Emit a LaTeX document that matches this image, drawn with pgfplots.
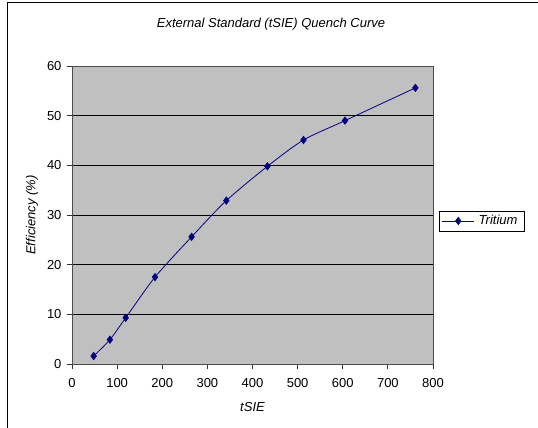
\documentclass[border=0pt]{standalone}
\usepackage{pgfplots}
\pgfplotsset{compat=1.18}
\usepackage{fontspec}
\setmainfont{Liberation Sans}
\definecolor{navy}{HTML}{000080}
\definecolor{plotgray}{HTML}{C0C0C0}
\begin{document}
\begin{tikzpicture}[x=1pt,y=1pt]
\path[use as bounding box] (0,0) rectangle (538,428);
\draw[black, line width=1pt] (7.3,0) -- (7.3,425) -- (538,425);
\node[font=\itshape\fontsize{13}{15}\selectfont] at (271,404) {External Standard (tSIE) Quench Curve};
\begin{axis}[
  at={(72pt,64pt)}, anchor=south west,
  scale only axis, width=361pt, height=298pt,
  xmin=0, xmax=800, ymin=0, ymax=60,
  xtick={0,100,...,800}, ytick={0,10,...,60},
  axis background/.style={fill=plotgray},
  axis line style={gray!60!black, line width=0.9pt},
  ymajorgrids, grid style={black, line width=0.9pt},
  tick align=outside, tick pos=left,
  major tick length=5pt,
  tick style={gray!40!black, line width=0.8pt},
  ticklabel style={font=\fontsize{13}{15}\selectfont},
  xticklabel style={yshift=-6pt},
  yticklabel style={xshift=-2pt},
  /pgf/number format/assume math mode=true,
  xlabel={\itshape tSIE}, ylabel={\itshape Efficiency (\%)},
  label style={font=\fontsize{13}{15}\selectfont},
  xlabel style={at={(axis description cs:0.5,-0.145)}, anchor=center},
  ylabel style={at={(axis description cs:-0.111,0.5)}, anchor=center},
  legend style={at={(1.0166,0.48)}, anchor=west, draw=black, fill=white,
    font=\itshape\fontsize{13}{15}\selectfont, inner sep=2.5pt, line width=0.8pt,
    nodes={inner xsep=4pt}},
  legend image code/.code={\draw[#1, mark repeat=2, mark phase=2] plot coordinates {(0pt,0pt) (16pt,0pt) (32pt,0pt)};},
]
\addplot[navy, line width=0.8pt, smooth, tension=0.45, mark=diamond*, mark size=3.6pt, mark options={fill=navy}]
coordinates {
(48,1.6) (84,4.9) (119,9.3) (184,17.5) (265,25.6) (342,32.9) (433,39.8) (513,45.1) (605,49.0) (761,55.6)
};
\addlegendentry{Tritium}
\end{axis}
\end{tikzpicture}
\end{document}
